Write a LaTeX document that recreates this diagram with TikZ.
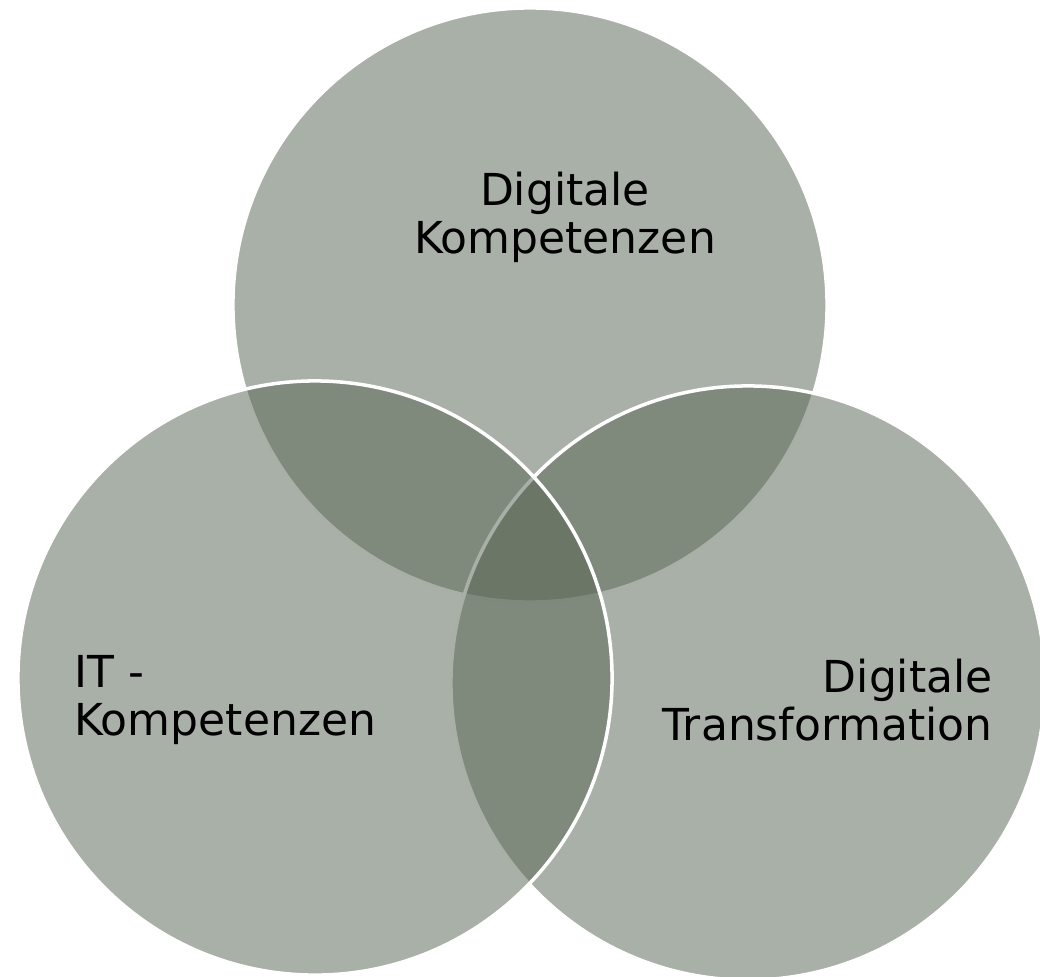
\documentclass[tikz,border=0pt]{standalone}
\usepackage{fontspec}
\setmainfont{DejaVu Sans}
\usetikzlibrary{positioning}
\definecolor{vennfill}{RGB}{87,100,83}
\tikzset{
  venn/.style={circle, inner sep=0pt, minimum size=14.85cm, fill=vennfill,
               fill opacity=0.51, draw=white, line width=2.5pt},
  lbl/.style={inner sep=0pt, font=\fontsize{31.3}{34.1}\selectfont}
}

\begin{document}
\begin{tikzpicture}[x=0.025cm, y=-0.025cm]
  \useasboundingbox (0,0) rectangle (1040,976);
  % the three sets, drawn top, right, left
  \node[venn] (dk) at (530,305) {};
  \node[venn] (dt) at (748,683) {};
  \node[venn] (it) at (315,678) {};
  % labels (base = last line)
  \node[lbl,align=center,anchor=base] (dktxt) at (565,253) {Digitale\\Kompetenzen};
  \node[lbl,align=left,anchor=base west] (ittxt) at (74,735) {IT -\\Kompetenzen};
  \node[lbl,align=right,anchor=base east] (dttxt) at (993,740) {Digitale\\Transformation};
\end{tikzpicture}
\end{document}
